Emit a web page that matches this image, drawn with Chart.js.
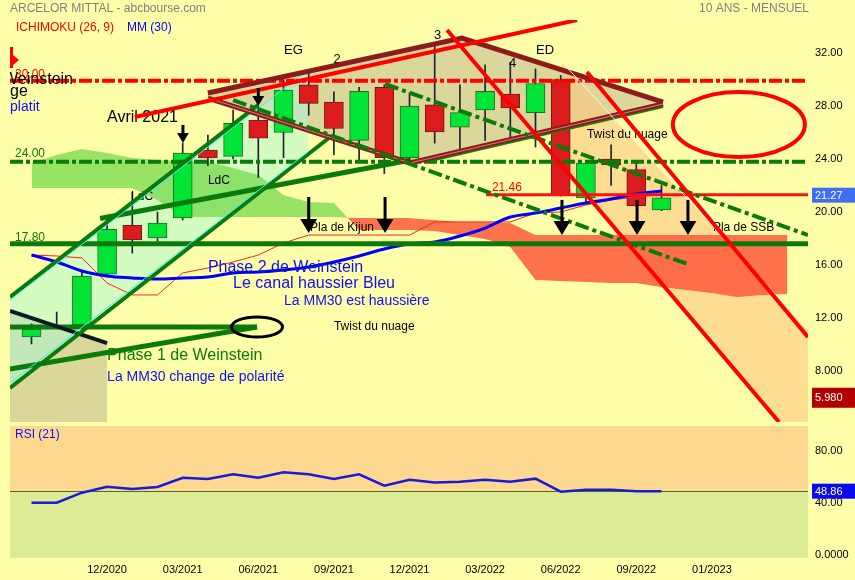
<!DOCTYPE html>
<html lang="fr">
<head>
<meta charset="utf-8">
<title>ARCELOR MITTAL - 10 ANS - MENSUEL</title>
<script src="https://cdn.jsdelivr.net/npm/chart.js@4.4.1/dist/chart.umd.min.js"></script>
<style>
  html, body { margin: 0; padding: 0; background: #ffffaa; overflow: hidden; }
  #wrap { position: relative; width: 855px; height: 580px; }
  canvas { position: absolute; left: 0; }
  #price { top: 0; }
  #rsi { top: 422px; }
</style>
</head>
<body>
<div id="wrap">
  <canvas id="price" width="855" height="422"></canvas>
  <canvas id="rsi" width="855" height="158"></canvas>
</div>
<script>
'use strict';

// monthly candles 09/2020 .. 10/2022 (x = month index)
const months = ['09/2020','10/2020','11/2020','12/2020','01/2021','02/2021','03/2021','04/2021','05/2021',
  '06/2021','07/2021','08/2021','09/2021','10/2021','11/2021','12/2021','01/2022','02/2022','03/2022',
  '04/2022','05/2022','06/2022','07/2022','08/2022','09/2022','10/2022'];
const open  = [10.57,11.30,11.47,15.30,19.00,18.04,19.55,24.68,24.20,26.94,26.00,29.60,28.30,25.40,29.40,24.10,28.08,26.40,27.70,28.90,27.50,30.00,21.06,24.00,23.20,20.15];
const high  = [11.55,12.45,15.47,19.60,21.50,20.00,25.20,25.80,27.70,27.90,30.00,30.60,29.06,29.40,29.60,29.00,32.80,29.60,31.10,31.30,30.80,30.30,23.80,25.06,23.70,22.00];
const low   = [10.04,11.20,11.40,15.10,16.90,17.80,19.40,23.50,24.00,22.60,24.10,27.30,24.30,23.90,22.90,23.90,25.20,24.30,25.40,25.30,24.90,21.20,20.70,22.00,20.40,20.10];
const close = [11.17,11.45,15.17,18.70,17.90,19.17,24.45,24.08,26.70,25.58,29.20,28.20,26.30,29.10,24.10,28.00,26.04,27.50,29.10,27.85,29.70,21.30,23.70,23.55,20.45,21.06];

const mm30  = [16.75,16.23,15.55,15.17,15.02,14.94,15.02,15.09,15.40,15.47,15.62,15.85,16.23,16.68,17.21,17.58,17.74,18.19,18.79,19.62,19.92,20.30,20.68,20.98,21.36,21.58];
const kijun = [16.75,16.68,16.53,14.64,13.74,13.74,15.40,15.77,16.23,16.75,17.66,18.26,18.26,18.26,18.26,18.26,19.25,19.25,19.25,19.25,19.92,20.00,20.53,20.91,21.13,21.36];
// ichimoku cloud, projected to 04/2023
const spanA = [23.70,24.30,24.75,24.45,24.08,23.92,23.85,23.77,23.32,22.79,21.28,20.75,20.68,18.64,18.64,18.64,18.57,18.26,17.96,17.36,14.87,14.79,14.72,14.64,14.64,14.34,14.11,13.89,13.58,13.74,13.81];
const spanB = [21.81,21.81,21.81,21.81,21.81,20.91,19.62,19.62,19.62,19.62,19.62,19.62,19.62,19.55,19.55,19.55,19.40,19.25,19.25,19.17,18.26,18.26,18.26,18.26,18.26,18.26,18.26,18.26,18.26,18.26,18.26];

const rsi = [40.0,40.0,47.7,52.3,50.5,52.1,59.2,58.2,61.8,59.2,63.4,61.8,58.2,61.8,53.1,57.7,55.5,56.2,57.7,56.2,58.5,48.5,50.0,50.0,48.86,48.86];
const rsiLast = 48.86;
const lastPrice = 21.27;
const lowTag = 5.98;

const xTickIdx = [3, 6, 9, 12, 15, 18, 21, 24, 27];
const xTickLabels = ['12/2020','03/2021','06/2021','09/2021','12/2021','03/2022','06/2022','09/2022','01/2023'];
const priceTicks = [8, 12, 16, 20, 24, 28, 32];
const priceTickLabels = ['8.000','12.00','16.00','20.00','24.00','28.00','32.00'];
const rsiTicks = [0, 40, 80];
const rsiTickLabels = ['0.0000','40.00','80.00'];

// drawings, in (month index, price)
const resistLevel = 29.9;
const dashLevel = 23.8;
const supportLevel = 17.6;
const breakLevel = [18.04, 21.3];
const phase1Level = [8.95, 11.32];
const redLines = [[4.1, 27.17, 21.65, 34.49], [16.49, 33.74, 29.66, 4.15], [22.04, 30.57, 30.81, 10.57]];
const greenDashLines = [[14.03, 29.66, 30.81, 18.26], [8.0, 28.45, 26.13, 16.0]];
const wedgeTop = [[7.0, 28.98], [17.08, 33.13], [25.06, 28.30]];
const wedgeBottom = [[7.0, 28.60], [15.02, 23.70], [25.06, 28.15]];
const wedgeUnder = [[15.8, 23.82], [25.06, 27.93]];
const channelTop = [[-0.853, 13.58], [9.0, 28.09]];
const channelBottom = [[-0.853, 6.72], [11.85, 25.66]];
const cyanTop = [[-0.853, 13.36], [10.97, 30.72]];
const cyanBottom = [[-0.853, 7.09], [10.97, 24.53]];
const channelZone = [[-0.853, 13.58], [10.97, 30.72], [10.97, 24.53], [-0.853, 6.72]];
const riseLine = [[2.72, 19.51], [15.0, 23.9]];
const phase1Line = [[-0.853, 8.15], [8.95, 11.32]];
const darkLine = [[-0.853, 12.53], [3.0, 10.11]];
const phase1Zone = [[-0.853, 12.53], [3.0, 10.11], [3.0, 4.15], [-0.853, 4.15]];
const fallBand = [[21.05, 31.32], [30.81, 11.09], [30.81, 4.15], [29.66, 4.15], [21.05, 23.77]];
const redFlag = [[-0.853, 32.45], [-0.734, 32.45], [-0.734, 31.85], [-0.496, 31.47], [-0.734, 31.09], [-0.734, 30.87], [-0.853, 30.87]];
const arrows = [[6.01, 26.57, 25.21], [9.0, 29.36, 28.0], [11.0, 21.13, 18.42], [14.03, 21.13, 18.42],
  [21.05, 20.91, 18.26], [24.03, 20.91, 18.26], [26.05, 20.91, 18.26]];
const blackRing = [8.95, 11.32, 1.01, 0.755];
const redRing = [28.07, 26.6, 2.62, 2.45];

const levelNotes = [
  { t: '30.00', x: -0.655, y: 30.34, k: 'red' },
  { t: '24.00', x: -0.655, y: 24.38, k: 'green' },
  { t: '17.80', x: -0.655, y: 18.04, k: 'green' },
  { t: '21.46', x: 18.27, y: 21.81, k: 'red' },
];
const notes = [
  { t: 'Weinstein', x: -1.13, y: 29.96, k: 'big' },
  { t: 'ge', x: -0.85, y: 29.06, k: 'big' },
  { t: 'platit', x: -0.85, y: 27.92, k: 'blue' },
  { t: 'Avril 2021', x: 3.0, y: 27.09, k: 'big' },
  { t: 'EG', x: 10.02, y: 32.23, k: 'mid' },
  { t: '2', x: 11.98, y: 31.55, k: 'mid' },
  { t: '3', x: 15.97, y: 33.36, k: 'mid' },
  { t: '4', x: 18.95, y: 31.25, k: 'mid' },
  { t: 'ED', x: 20.02, y: 32.23, k: 'mid' },
  { t: 'Twist du nuage', x: 22.04, y: 25.81, k: 'small' },
  { t: 'Pla de SSB', x: 27.04, y: 18.79, k: 'small' },
  { t: 'Pla de Kijun', x: 11.05, y: 18.79, k: 'small' },
  { t: 'LdC', x: 7.0, y: 22.34, k: 'small' },
  { t: 'LdC', x: 3.95, y: 21.13, k: 'small' },
  { t: 'Phase 2 de Weinstein', x: 7.0, y: 15.77, k: 'blueBig' },
  { t: 'Le canal haussier Bleu', x: 8.0, y: 14.57, k: 'blueBig' },
  { t: 'La MM30 est haussière', x: 10.02, y: 13.28, k: 'blue' },
  { t: 'Twist du nuage', x: 12.0, y: 11.32, k: 'small' },
  { t: 'Phase 1 de Weinstein', x: 3.0, y: 9.13, k: 'greenBig' },
  { t: 'La MM30 change de polarité', x: 3.0, y: 7.55, k: 'blue' },
];

const FONT = "'Liberation Sans', Arial, sans-serif";
const X_MIN = -0.853, X_MAX = 30.813;
const DASHDOT = [13, 3, 4, 3];
const noteStyle = {
  big: ['#000', 16], mid: ['#000', 13], small: ['#000', 12],
  blueBig: ['#1010f0', 16], blue: ['#1010f0', 14], greenBig: ['#0a7a0a', 16],
  red: ['#ff0000', 12], green: ['#0a7a0a', 12],
};

Chart.defaults.font.family = FONT;

function xy(arr) { return arr.map((v, i) => ({ x: i, y: v })); }
const up = i => close[i] >= open[i];

function P(chart, x, y) {
  return [chart.scales.x.getPixelForValue(x), chart.scales.y.getPixelForValue(y)];
}

function trace(ctx, chart, pts) {
  ctx.beginPath();
  pts.forEach(([x, y], i) => {
    const [px, py] = P(chart, x, y);
    if (i) ctx.lineTo(px, py); else ctx.moveTo(px, py);
  });
}

function stroke(ctx, chart, pts, color, width, dash) {
  ctx.save();
  trace(ctx, chart, pts);
  ctx.strokeStyle = color;
  ctx.lineWidth = width;
  ctx.setLineDash(dash || []);
  ctx.stroke();
  ctx.restore();
}

function fillPoly(ctx, chart, pts, color) {
  trace(ctx, chart, pts);
  ctx.closePath();
  ctx.fillStyle = color;
  ctx.fill();
}

function seg(s) { return [[s[0], s[1]], [s[2], s[3]]]; }

function ring(ctx, chart, r, color, width) {
  const [cx, cy] = P(chart, r[0], r[1]);
  const rx = Math.abs(chart.scales.x.getPixelForValue(r[0] + r[2]) - cx);
  const ry = Math.abs(chart.scales.y.getPixelForValue(r[1] + r[3]) - cy);
  ctx.beginPath();
  ctx.ellipse(cx, cy, rx, ry, 0, 0, Math.PI * 2);
  ctx.strokeStyle = color;
  ctx.lineWidth = width;
  ctx.stroke();
}

function arrow(ctx, chart, a) {
  const [ax, y0] = P(chart, a[0], a[1]);
  const y1 = chart.scales.y.getPixelForValue(a[2]);
  const head = Math.min(14, (y1 - y0) * 0.55), half = head * 0.6;
  ctx.fillStyle = '#000';
  ctx.fillRect(ax - 1.5, y0, 3, y1 - y0 - head + 1);
  ctx.beginPath();
  ctx.moveTo(ax - half, y1 - head);
  ctx.lineTo(ax + half, y1 - head);
  ctx.lineTo(ax, y1);
  ctx.closePath();
  ctx.fill();
}

function writeNotes(ctx, chart, list) {
  ctx.textBaseline = 'middle';
  ctx.textAlign = 'left';
  list.forEach(n => {
    const [color, size] = noteStyle[n.k];
    const [px, py] = P(chart, n.x, n.y);
    ctx.font = size + 'px ' + FONT;
    ctx.fillStyle = color;
    ctx.fillText(n.t, px, py);
  });
}

function tag(ctx, y, h, text, bg) {
  ctx.fillStyle = bg;
  ctx.fillRect(812, y - h / 2, 43, h);
  ctx.fillStyle = '#fff';
  ctx.font = '11px ' + FONT;
  ctx.textBaseline = 'middle';
  ctx.textAlign = 'left';
  ctx.fillText(text, 815, y + 0.5);
}

function clipArea(ctx, a) {
  ctx.beginPath();
  ctx.rect(a.left, a.top, a.right - a.left, a.bottom - a.top);
  ctx.clip();
}

function noPadding(s) {
  s.paddingTop = 0;
  s.paddingBottom = 0;
  s.paddingLeft = 0;
  s.paddingRight = 0;
}

const priceDecor = {
  id: 'priceDecor',
  beforeDatasetsDraw(chart) {
    const { ctx, chartArea } = chart;
    ctx.save();
    clipArea(ctx, chartArea);
    fillPoly(ctx, chart, phase1Zone, 'rgba(190,180,140,0.55)');
    fillPoly(ctx, chart, wedgeTop.concat(wedgeBottom.slice().reverse()), 'rgba(190,180,140,0.55)');
    fillPoly(ctx, chart, fallBand, 'rgba(252,198,128,0.6)');
    fillPoly(ctx, chart, channelZone, 'rgba(170,250,215,0.5)');
    ctx.restore();
  },
  afterDatasetsDraw(chart) {
    const { ctx, chartArea } = chart;
    ctx.save();
    clipArea(ctx, chartArea);

    writeNotes(ctx, chart, levelNotes);
    stroke(ctx, chart, [[X_MIN, resistLevel], [X_MAX, resistLevel]], '#ff0000', 4, DASHDOT);
    stroke(ctx, chart, [[X_MIN, dashLevel], [X_MAX, dashLevel]], '#0a7a0a', 4, DASHDOT);
    stroke(ctx, chart, [[X_MIN, supportLevel], [X_MAX, supportLevel]], '#0a7a0a', 5);
    stroke(ctx, chart, [[breakLevel[0], breakLevel[1]], [X_MAX, breakLevel[1]]], '#ff1010', 3);
    stroke(ctx, chart, [[X_MIN, phase1Level[1]], [phase1Level[0], phase1Level[1]]], '#0a7a0a', 5);

    writeNotes(ctx, chart, notes);

    stroke(ctx, chart, darkLine, '#0d1a26', 4);
    stroke(ctx, chart, phase1Line, '#0a7a0a', 5);
    stroke(ctx, chart, riseLine, '#0a7a0a', 5);
    stroke(ctx, chart, channelTop, '#0a7a0a', 4);
    stroke(ctx, chart, channelBottom, '#0a7a0a', 4);
    stroke(ctx, chart, cyanTop, '#3ef0f0', 1);
    stroke(ctx, chart, cyanBottom, '#3ef0f0', 1);

    stroke(ctx, chart, wedgeUnder, '#0a8a0a', 2);
    stroke(ctx, chart, wedgeTop, '#8c1c1c', 5);
    stroke(ctx, chart, wedgeBottom, '#8c1c1c', 5);
    stroke(ctx, chart, wedgeBottom, 'rgba(255,190,190,0.6)', 1);

    greenDashLines.forEach(s => stroke(ctx, chart, seg(s), '#0a7a0a', 4, [14, 4, 4, 4]));
    stroke(ctx, chart, [fallBand[0], fallBand[1]], 'rgba(255,255,225,0.9)', 1);
    redLines.forEach(s => stroke(ctx, chart, seg(s), '#ff0000', 4));
    fillPoly(ctx, chart, redFlag, '#ff0000');

    ring(ctx, chart, blackRing, '#000', 3);
    ring(ctx, chart, redRing, '#ff0000', 4);
    arrows.forEach(a => arrow(ctx, chart, a));
    ctx.restore();
  },
  afterDraw(chart) {
    const { ctx, scales } = chart;
    ctx.save();
    ctx.textBaseline = 'middle';
    ctx.font = '12px ' + FONT;
    ctx.fillStyle = '#808080';
    ctx.textAlign = 'left';
    ctx.fillText('ARCELOR MITTAL - abcbourse.com', 10, 8.5);
    ctx.textAlign = 'right';
    ctx.fillText('10 ANS - MENSUEL', 809, 8.5);
    ctx.textAlign = 'left';
    ctx.fillStyle = '#ff0000';
    ctx.fillText('ICHIMOKU (26, 9)', 16, 28);
    ctx.fillStyle = '#0000ff';
    ctx.fillText('MM (30)', 127, 28);
    tag(ctx, scales.y.getPixelForValue(lastPrice), 15, lastPrice.toFixed(2), '#3f6ff0');
    tag(ctx, scales.y.getPixelForValue(lowTag), 20, lowTag.toFixed(3), '#b40000');
    ctx.restore();
  },
};

const rsiDecor = {
  id: 'rsiDecor',
  beforeDatasetsDraw(chart) {
    const { ctx, chartArea: a, scales: { y } } = chart;
    const mid = Math.round(y.getPixelForValue(rsiLast));
    ctx.save();
    ctx.fillStyle = '#fdd890';
    ctx.fillRect(a.left, a.top, a.right - a.left, mid - a.top);
    ctx.fillStyle = '#dcec94';
    ctx.fillRect(a.left, mid, a.right - a.left, a.bottom - mid);
    ctx.fillStyle = '#4b6b2b';
    ctx.fillRect(a.left, mid, a.right - a.left, 1);
    ctx.restore();
  },
  afterDraw(chart) {
    const { ctx, scales: { y } } = chart;
    ctx.save();
    ctx.font = '12px ' + FONT;
    ctx.fillStyle = '#1010f0';
    ctx.textBaseline = 'middle';
    ctx.fillText('RSI (21)', 15, 12.5);
    tag(ctx, y.getPixelForValue(rsiLast), 15, rsiLast.toFixed(2), '#0a0af0');
    ctx.restore();
  },
};

const rightAxis = (min, max, ticks, labels) => ({
  position: 'right', min, max,
  grid: { display: false, drawTicks: false },
  border: { display: false },
  afterBuildTicks: s => { s.ticks = ticks.map(v => ({ value: v })); },
  afterFit: s => { s.width = 47; noPadding(s); },
  ticks: { padding: 7, color: '#000', font: { size: 11 }, autoSkip: false, callback: (v, i) => labels[i] },
});

new Chart(document.getElementById('price'), {
  type: 'bar',
  data: {
    datasets: [
      { type: 'line', data: xy(spanA), borderColor: 'transparent', borderWidth: 0, pointRadius: 0,
        fill: { target: '+1', above: 'rgba(110,215,70,0.7)', below: 'rgba(255,90,60,0.85)' }, order: 10 },
      { type: 'line', data: xy(spanB), borderColor: 'transparent', borderWidth: 0, pointRadius: 0, fill: false, order: 10 },
      { type: 'bar', data: months.map((m, i) => ({ x: i, y: [low[i], high[i]] })),
        backgroundColor: '#1c2430', barThickness: 1, grouped: false, order: 4 },
      { type: 'bar', data: months.map((m, i) => ({ x: i, y: [open[i], close[i]] })),
        backgroundColor: c => up(c.dataIndex) ? '#00e436' : '#dc1c1c',
        borderColor: c => up(c.dataIndex) ? '#1d6e1d' : '#7a1212',
        borderWidth: 1, borderSkipped: false, barThickness: 19, grouped: false, order: 3 },
      { type: 'line', data: xy(kijun), borderColor: '#ff2020', borderWidth: 1, pointRadius: 0, fill: false, order: 2 },
      { type: 'line', data: xy(mm30), borderColor: '#0000ff', borderWidth: 3, pointRadius: 0,
        tension: 0.4, fill: false, order: 1 },
    ],
  },
  options: {
    responsive: false,
    animation: false,
    events: [],
    layout: { padding: { left: 10, top: 20, right: 0, bottom: 0 } },
    scales: {
      x: { type: 'linear', min: X_MIN, max: X_MAX, offset: false, display: false },
      y: rightAxis(4.151, 34.49, priceTicks, priceTickLabels),
    },
    plugins: { legend: { display: false }, tooltip: { enabled: false } },
  },
  plugins: [priceDecor],
});

new Chart(document.getElementById('rsi'), {
  type: 'line',
  data: {
    datasets: [{ data: xy(rsi), borderColor: '#1a1ad8', borderWidth: 2.5, pointRadius: 0, fill: false }],
  },
  options: {
    responsive: false,
    animation: false,
    events: [],
    layout: { padding: { left: 10, top: 4, right: 0, bottom: 0 } },
    scales: {
      x: {
        type: 'linear', min: X_MIN, max: X_MAX, offset: false,
        grid: { display: false, drawTicks: false },
        border: { display: false },
        afterBuildTicks: s => { s.ticks = xTickIdx.map(v => ({ value: v })); },
        afterFit: s => { s.height = 22; noPadding(s); },
        ticks: { padding: 5, color: '#000', font: { size: 11 }, autoSkip: false, maxRotation: 0,
          callback: (v, i) => xTickLabels[i] },
      },
      y: rightAxis(-2.54, 99.0, rsiTicks, rsiTickLabels),
    },
    plugins: { legend: { display: false }, tooltip: { enabled: false } },
  },
  plugins: [rsiDecor],
});
</script>
</body>
</html>
